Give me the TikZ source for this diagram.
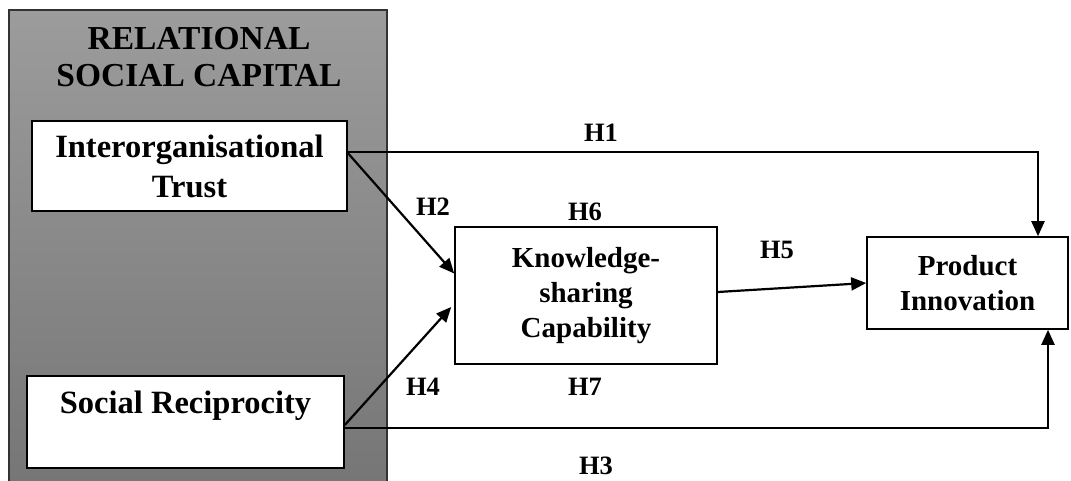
\documentclass[tikz,border=0pt]{standalone}
\usepackage{fontspec}
\setmainfont{Liberation Serif}
\usetikzlibrary{arrows.meta}
\definecolor{gtop}{RGB}{156,156,156}
\definecolor{gbot}{RGB}{118,118,118}
\tikzset{
  box/.style={draw=black, line width=1.6pt, fill=white, align=center, inner sep=0pt, font=\bfseries},
  bigtxt/.style={font=\bfseries\fontsize{32.5}{40}\selectfont},
  titletxt/.style={font=\bfseries\fontsize{33.5}{37}\selectfont},
  midtxt/.style={font=\bfseries\fontsize{29}{35}\selectfont},
  hlab/.style={font=\bfseries\fontsize{26.5}{30}\selectfont, inner sep=0pt},
  arr/.style={line width=2.2pt, -{Triangle[length=15pt,width=13pt]}},
}
\begin{document}
\begin{tikzpicture}[x=1pt,y=-1pt]
\useasboundingbox (0,0) rectangle (1071,480);
% gray panel
\shade[top color=gtop, bottom color=gbot] (9,10) rectangle (387,482);
\draw[line width=1.6pt, black!80] (9,482) -- (9,10) -- (387,10) -- (387,482);
\node[titletxt, align=center, inner sep=0pt] (title) at (199,57) {RELATIONAL\\SOCIAL CAPITAL};
% boxes
\node[box, bigtxt, minimum width=315pt, minimum height=90pt] (trust) at (189.5,166) {Interorganisational\\Trust};
\node[box, bigtxt, minimum width=317pt, minimum height=92pt] (soc) at (185.5,422) {Social Reciprocity\\\mbox{}};
\node[box, midtxt, minimum width=262pt, minimum height=137pt] (know) at (586,295.5) {Knowledge-\\sharing\\Capability};
\node[box, midtxt, minimum width=201pt, minimum height=92pt] (prod) at (967.5,283) {Product\\Innovation};
% connectors
\draw[arr] ([yshift=14pt]trust.east) -| ([xshift=70.5pt]prod.north);
\draw[arr] ([yshift=13pt]trust.east) -- ([yshift=22pt]know.west);
\draw[arr] ([yshift=-6pt]soc.east) -| ([xshift=80.5pt]prod.south);
\draw[arr] ([yshift=-3pt]soc.east) -- ([xshift=-3pt,yshift=-11.5pt]know.west);
\draw[arr] ([yshift=3.5pt]know.east) -- (prod.west);
% labels
\node[hlab] (h1) at (601,133) {H1};
\node[hlab] (h2) at (433,207) {H2};
\node[hlab] (h6) at (585,212) {H6};
\node[hlab] (h4) at (423,387) {H4};
\node[hlab] (h7) at (585,387) {H7};
\node[hlab] (h5) at (777,250) {H5};
\node[hlab] (h3) at (596,466) {H3};
\end{tikzpicture}
\end{document}
